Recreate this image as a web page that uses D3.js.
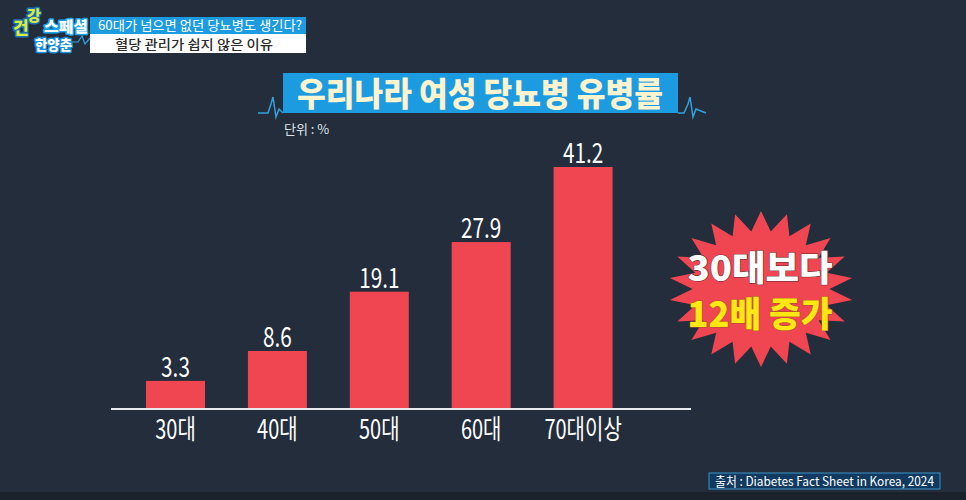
<!DOCTYPE html>
<html>
<head>
<meta charset="utf-8">
<script src="https://cdn.jsdelivr.net/npm/d3@7"></script>
<style>
  html, body { margin: 0; padding: 0; background: #232d3b; }
  svg { display: block; }
  text { font-family: "Noto Sans CJK KR", "Noto Sans", sans-serif; }
</style>
</head>
<body>
<svg id="chart" width="966" height="500"></svg>
<script>
// chart data
const categories = ["30대", "40대", "50대", "60대", "70대이상"];
const rates = [3.3, 8.6, 19.1, 27.9, 41.2];
const valueLabels = ["3.3", "8.6", "19.1", "27.9", "41.2"];
const titleText = "우리나라 여성 당뇨병 유병률";
const unitText = "단위 : %";
const calloutLines = ["30대보다", "12배 증가"];
const headerLines = ["60대가 넘으면 없던 당뇨병도 생긴다?", "혈당 관리가 쉽지 않은 이유"];
const sourceText = "출처 : Diabetes Fact Sheet in Korea, 2024";

const W = 966, H = 500;
const baseY = 408;
const svg = d3.select("#chart");

// background
svg.append("rect").attr("width", W).attr("height", H).attr("fill", "#232d3b");
svg.append("rect").attr("y", 492).attr("width", W).attr("height", 8).attr("fill", "#1b222c");

// scales
const x = d3.scaleBand().domain(categories).range([146, 612.6]).paddingInner(0.421).paddingOuter(0);
const y = d3.scaleLinear().domain([0, d3.max(rates)]).range([399.5, 167]);

// bars
svg.append("g").selectAll("rect").data(rates).join("rect")
    .attr("x", (d, i) => x(categories[i]))
    .attr("y", d => y(d))
    .attr("width", x.bandwidth())
    .attr("height", d => baseY - y(d))
    .attr("fill", "#ef4651");

// value labels
svg.append("g").selectAll("text").data(rates).join("text")
    .attr("transform", (d, i) => `translate(${x(categories[i]) + x.bandwidth() / 2},${y(d) - 4}) scale(0.74,1)`)
    .attr("text-anchor", "middle")
    .attr("fill", "#ffffff")
    .attr("font-size", 28)
    .attr("font-weight", 400)
    .text((d, i) => valueLabels[i]);

// axis line
svg.append("line")
    .attr("x1", 111).attr("x2", 691)
    .attr("y1", baseY + 1).attr("y2", baseY + 1)
    .attr("stroke", "#e6e9ee").attr("stroke-width", 2);

// category labels
svg.append("g").selectAll("text").data(categories).join("text")
    .attr("transform", d => `translate(${x(d) + x.bandwidth() / 2},439) scale(0.74,1)`)
    .attr("text-anchor", "middle")
    .attr("fill", "#ffffff")
    .attr("font-size", 27)
    .attr("font-weight", 400)
    .text(d => d);

// title box with heartbeat lines
svg.append("rect").attr("x", 283).attr("y", 73).attr("width", 395).attr("height", 40).attr("fill", "#1d9be0");
svg.append("text")
    .attr("x", 297).attr("y", 106)
    .attr("textLength", 366).attr("lengthAdjust", "spacingAndGlyphs")
    .attr("fill", "#fdf3cf").attr("font-size", 33).attr("font-weight", 900)
    .text(titleText);

const pulse = d3.line();
svg.append("path")
    .attr("d", pulse([[258, 113], [268, 113], [271, 104], [273, 97], [276, 117], [279, 109], [283, 113]]))
    .attr("fill", "none").attr("stroke", "#2fa3e0").attr("stroke-width", 1.5);
svg.append("path")
    .attr("d", pulse([[678, 113], [684, 113], [688, 104], [690, 97], [693, 117], [696, 109], [706, 113]]))
    .attr("fill", "none").attr("stroke", "#2fa3e0").attr("stroke-width", 1.5);

svg.append("text")
    .attr("x", 284).attr("y", 134)
    .attr("fill", "#dfe3ea").attr("font-size", 13)
    .text(unitText);

// starburst callout
const spikes = 22;
const burst = d3.range(spikes * 2).map(i => [i * Math.PI / spikes, i % 2 === 0 ? 78 : 58]);
const star = svg.append("g").attr("transform", "translate(761,289) scale(1.18,1)");
star.append("path")
    .attr("d", d3.lineRadial().curve(d3.curveLinearClosed)(burst))
    .attr("fill", "#ef4651");

svg.append("g").selectAll("text").data(calloutLines).join("text")
    .attr("x", 760)
    .attr("y", (d, i) => 281 + i * 46)
    .attr("text-anchor", "middle")
    .attr("textLength", 145).attr("lengthAdjust", "spacingAndGlyphs")
    .attr("font-size", 35).attr("font-weight", 900)
    .attr("fill", (d, i) => i === 0 ? "#ffffff" : "#ffe713")
    .attr("stroke", (d, i) => i === 0 ? "#5a2a2a" : "#a8551e")
    .attr("stroke-width", 1)
    .attr("paint-order", "stroke")
    .text(d => d);

// header banner
svg.append("rect").attr("x", 90).attr("y", 17).attr("width", 216).attr("height", 17).attr("fill", "#1d9be0");
svg.append("rect").attr("x", 90).attr("y", 34).attr("width", 216).attr("height", 19).attr("fill", "#ffffff");
svg.append("text")
    .attr("x", 98).attr("y", 30)
    .attr("textLength", 204).attr("lengthAdjust", "spacingAndGlyphs")
    .attr("fill", "#ffffff").attr("font-size", 13)
    .text(headerLines[0]);
svg.append("text")
    .attr("x", 194).attr("y", 49).attr("text-anchor", "middle")
    .attr("textLength", 158).attr("lengthAdjust", "spacingAndGlyphs")
    .attr("fill", "#2b2b2b").attr("font-size", 13).attr("font-weight", 500)
    .text(headerLines[1]);

// logo
const logo = svg.append("g").attr("font-weight", 900).attr("paint-order", "stroke").attr("stroke-linejoin", "round");
logo.append("text").attr("x", 13).attr("y", 34).attr("font-size", 17)
    .attr("fill", "#d8ef3a").attr("stroke", "#1d6fb8").attr("stroke-width", 3).text("건");
logo.append("text").attr("x", 27).attr("y", 21).attr("font-size", 15)
    .attr("fill", "#d8ef3a").attr("stroke", "#1d6fb8").attr("stroke-width", 3).text("강");
logo.append("text").attr("x", 44).attr("y", 32).attr("font-size", 15)
    .attr("textLength", 44).attr("lengthAdjust", "spacingAndGlyphs")
    .attr("fill", "#ffffff").attr("stroke", "#1aa3e8").attr("stroke-width", 3).text("스페셜");
logo.append("text").attr("x", 35).attr("y", 50).attr("font-size", 14)
    .attr("textLength", 37).attr("lengthAdjust", "spacingAndGlyphs")
    .attr("fill", "#ffffff").attr("stroke", "#1d8fd8").attr("stroke-width", 3).text("한양춘");
svg.append("path")
    .attr("d", pulse([[72, 42], [78, 42], [82, 36], [85, 44], [90, 38]]))
    .attr("fill", "none").attr("stroke", "#2fa3e0").attr("stroke-width", 1.2);

// source box
svg.append("rect").attr("x", 709).attr("y", 473).attr("width", 231).attr("height", 16)
    .attr("fill", "#123a60").attr("stroke", "#3c93c8").attr("stroke-width", 1);
svg.append("text")
    .attr("x", 715).attr("y", 486)
    .attr("textLength", 219).attr("lengthAdjust", "spacingAndGlyphs")
    .attr("fill", "#ffffff").attr("font-size", 13)
    .text(sourceText);
</script>
</body>
</html>
